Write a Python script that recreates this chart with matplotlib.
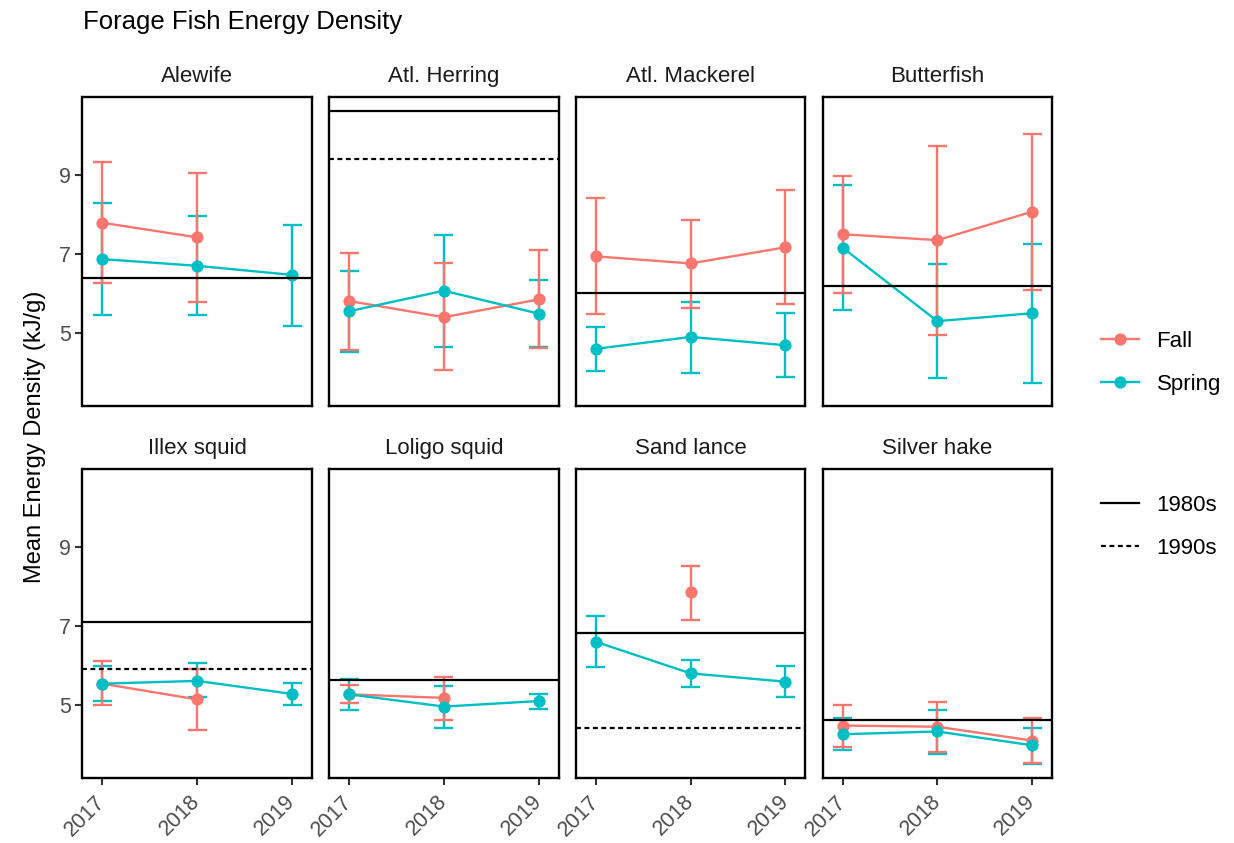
import numpy as np
import matplotlib
matplotlib.use("Agg")
import matplotlib.pyplot as plt
from matplotlib.lines import Line2D

plt.rcParams['font.family'] = ['Liberation Sans', 'DejaVu Sans']

nan = np.nan
years = np.array([2017, 2018, 2019])
species = ["Alewife", "Atl. Herring", "Atl. Mackerel", "Butterfish",
           "Illex squid", "Loligo squid", "Sand lance", "Silver hake"]

fall_mean = [[7.78, 7.41, nan], [5.80, 5.39, 5.84], [6.93, 6.75, 7.16], [7.49, 7.34, 8.06],
             [5.53, 5.13, nan], [5.26, 5.17, nan], [nan, 7.84, nan], [4.47, 4.44, 4.09]]
fall_upper = [[9.32, 9.03, nan], [7.01, 6.75, 7.10], [8.40, 7.85, 8.60], [8.97, 9.71, 10.03],
              [6.10, 5.91, nan], [5.50, 5.71, nan], [nan, 8.52, nan], [4.98, 5.07, 4.67]]
fall_lower = [[6.26, 5.78, nan], [4.56, 4.05, 4.60], [5.48, 5.63, 5.73], [6.01, 4.95, 6.09],
              [4.98, 4.35, nan], [5.03, 4.62, nan], [nan, 7.15, nan], [3.93, 3.81, 3.53]]

spring_mean = [[6.86, 6.69, 6.46], [5.54, 6.06, 5.48], [4.59, 4.89, 4.68], [7.15, 5.29, 5.49],
               [5.53, 5.60, 5.27], [5.26, 4.95, 5.09], [6.59, 5.79, 5.58], [4.25, 4.32, 3.97]]
spring_upper = [[8.28, 7.94, 7.72], [6.56, 7.48, 6.32], [5.13, 5.78, 5.49], [8.73, 6.74, 7.25],
                [5.97, 6.05, 5.54], [5.65, 5.48, 5.28], [7.23, 6.13, 5.98], [4.65, 4.87, 4.42]]
spring_lower = [[5.44, 5.44, 5.17], [4.50, 4.64, 4.64], [4.03, 3.99, 3.87], [5.56, 3.85, 3.72],
                [5.08, 5.18, 4.99], [4.87, 4.41, 4.90], [5.95, 5.45, 5.18], [3.85, 3.76, 3.50]]

ref_1980s = [6.38, 10.60, 6.01, 6.19, 7.10, 5.61, 6.80, 4.61]
ref_1990s = [nan, 9.40, nan, nan, 5.90, nan, 4.42, nan]

seasons = ["Fall", "Spring"]
colors = {"Fall": "#F8766D", "Spring": "#00BFC4"}
series = {"Fall": (fall_mean, fall_lower, fall_upper),
          "Spring": (spring_mean, spring_lower, spring_upper)}

# shared scales (ggplot-like 5% expansion)
allv = np.concatenate([np.ravel(a) for a in
                       [fall_lower, fall_upper, spring_lower, spring_upper, ref_1980s, ref_1990s]])
lo, hi = np.nanmin(allv), np.nanmax(allv)
pad = 0.05 * (hi - lo)
ylim = (lo - pad, hi + pad)
cap_w = 0.2
xlo, xhi = years.min() - cap_w / 2, years.max() + cap_w / 2
xpad = 0.05 * (xhi - xlo)
xlim = (xlo - xpad, xhi + xpad)

W, H = 1234, 843
fig = plt.figure(figsize=(W / 100, H / 100), dpi=100)

lefts = [82.5, 329.2, 575.9, 822.6]
pw = 229.5
tops = [97.3, 469.3]
ph = 308.6

LW = 1.7
MS = 8.8
tick_color = "#4D4D4D"
for i, sp in enumerate(species):
    r, c = divmod(i, 4)
    ax = fig.add_axes([lefts[c] / W, 1 - (tops[r] + ph) / H, pw / W, ph / H])
    ax.set_xlim(xlim)
    ax.set_ylim(ylim)
    for s in ax.spines.values():
        s.set_linewidth(1.7)
        s.set_color("black")
    # error bars (Spring first, Fall on top)
    for season in ["Spring", "Fall"]:
        m, l, u = (np.array(a[i], dtype=float) for a in series[season])
        col = colors[season]
        ax.vlines(years, l, u, color=col, lw=LW, zorder=2)
        ax.hlines(u, years - cap_w / 2, years + cap_w / 2, color=col, lw=LW, zorder=2)
        ax.hlines(l, years - cap_w / 2, years + cap_w / 2, color=col, lw=LW, zorder=2)
    for season in seasons:
        m = np.array(series[season][0][i], dtype=float)
        ax.plot(years, m, color=colors[season], lw=LW, zorder=3)
    for season in seasons:
        m = np.array(series[season][0][i], dtype=float)
        ax.plot(years, m, 'o', color=colors[season], ms=MS, zorder=4, mec='none')
    ax.axhline(ref_1980s[i], color="black", lw=1.6, zorder=5)
    if not np.isnan(ref_1990s[i]):
        ax.axhline(ref_1990s[i], color="black", lw=1.6, ls=(0, (2.2, 1.6)), zorder=5)

    ax.set_yticks([5, 7, 9])
    ax.set_xticks(years)
    ax.tick_params(axis='both', length=5, width=1.5, color="#333333",
                   labelsize=15.5, labelcolor=tick_color, pad=3.5)
    if c != 0:
        ax.tick_params(axis='y', left=False, labelleft=False)
    else:
        ax.set_yticklabels(["5", "7", "9"], fontsize=15.5, color=tick_color)
    if r == 0:
        ax.tick_params(axis='x', bottom=False, labelbottom=False)
    else:
        ax.set_xticklabels([str(y) for y in years], rotation=45, ha='right',
                           va='center', rotation_mode='anchor', fontsize=15.5,
                           color=tick_color)
        ax.tick_params(axis='x', pad=10)
    ax.text(0.5, 1 + 15.6 / ph, sp, transform=ax.transAxes, ha='center',
            va='baseline', fontsize=16, color="#1A1A1A")

fig.text(82.7 / W, 1 - 29.3 / H, "Forage Fish Energy Density", fontsize=18.5,
         ha='left', va='baseline', color='black')
fig.text(35 / W, 1 - 437 / H, "Mean Energy Density (kJ/g)", fontsize=17,
         rotation=90, ha='center', va='center', color='black')

h1 = [Line2D([], [], color=colors[s], lw=LW, marker='o', ms=MS, mec='none') for s in seasons]
leg1 = fig.legend(h1, seasons, loc='center left', bbox_to_anchor=(1081 / W, 1 - 363 / H),
                  frameon=False, fontsize=16, handlelength=1.7, handletextpad=0.8,
                  labelspacing=1.0)
h2 = [Line2D([], [], color='black', lw=1.6),
      Line2D([], [], color='black', lw=1.6, ls=(0, (2.2, 1.6)))]
leg2 = fig.legend(h2, ["1980s", "1990s"], loc='center left',
                  bbox_to_anchor=(1081 / W, 1 - 527 / H),
                  frameon=False, fontsize=16, handlelength=1.7, handletextpad=0.8,
                  labelspacing=1.0)

fig.savefig("out.png", dpi=100)
